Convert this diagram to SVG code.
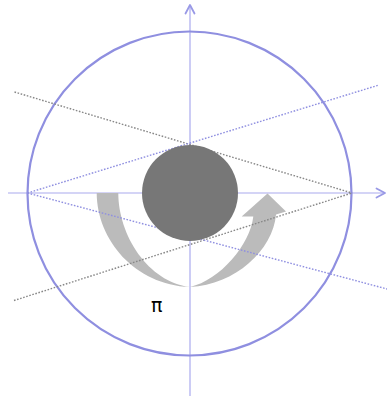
<svg xmlns="http://www.w3.org/2000/svg" width="387" height="396" viewBox="0 0 387 396">
<style>
.axis{stroke:#aaaaee;stroke-width:1.2;fill:none}
.head{stroke:#9999e6;stroke-width:1.8;fill:none;stroke-linecap:round;stroke-linejoin:round}
.gdot{stroke:#888888;stroke-width:1.4;stroke-dasharray:1.6 1.6;fill:none}
.bdot{stroke:#8f8fe0;stroke-width:1.4;stroke-dasharray:1.6 1.6;fill:none}
.label{font-family:"DejaVu Sans",sans-serif;font-size:19px;fill:#000000}
</style>
<rect width="387" height="396" fill="#ffffff"/>
<g id="axes">
<line class="axis" x1="190" y1="396" x2="190" y2="5"/>
<polyline class="head" points="185.5,13.5 190,5 194.5,13.5"/>
<line class="axis" x1="8" y1="193" x2="384" y2="193"/>
<polyline class="head" points="376.5,188.5 385,193 376.5,197.5"/>
</g>
<g id="outer-circle">
<circle cx="189.5" cy="193.5" r="162" fill="none" stroke="#8f8fe0" stroke-width="2.2"/>
</g>
<g id="curved-arrow">
<path d="M96.7,193 L118.3,193 C118.3,235 148,282 190,287 C220,280 250,245 253.3,216.5 L241.7,216.5 L267.5,193.5 L286,211.5 L276,214.5 C273,250 235,285 190,287 C135,285 97,240 96.7,193 Z" fill="#bbbbbb"/>
</g>
<g id="connectors">
<line class="gdot" x1="14.5" y1="92" x2="352" y2="193"/>
<line class="gdot" x1="14" y1="300.5" x2="352" y2="193"/>
<line class="bdot" x1="27.5" y1="193" x2="379" y2="85"/>
<line class="bdot" x1="27.5" y1="193" x2="387" y2="289"/>
</g>
<g id="ball">
<circle cx="190" cy="193" r="48" fill="#777777"/>
</g>
<g id="label-pi">
<text class="label" x="156.7" y="312.3" text-anchor="middle">π</text>
</g>
</svg>
